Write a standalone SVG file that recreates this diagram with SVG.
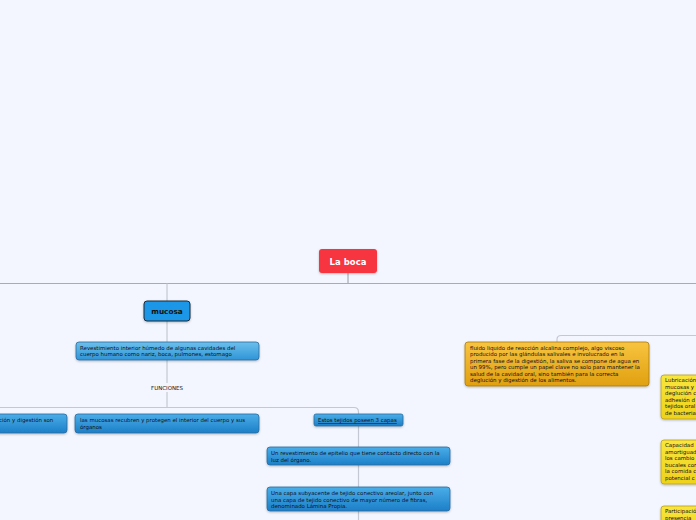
<svg xmlns="http://www.w3.org/2000/svg" width="696" height="520" viewBox="0 0 696 520">
<defs>
<linearGradient id="gBlue" x1="0" y1="0" x2="0" y2="1"><stop offset="0" stop-color="#6cc0ec"/><stop offset="1" stop-color="#2f94d6"/></linearGradient>
<linearGradient id="gBlue2" x1="0" y1="0" x2="0" y2="1"><stop offset="0" stop-color="#4aaee8"/><stop offset="1" stop-color="#1c7fc8"/></linearGradient>
<linearGradient id="gOrange" x1="0" y1="0" x2="0" y2="1"><stop offset="0" stop-color="#f8c440"/><stop offset="1" stop-color="#e0a010"/></linearGradient>
<linearGradient id="gYellow" x1="0" y1="0" x2="0" y2="1"><stop offset="0" stop-color="#f9e63c"/><stop offset="1" stop-color="#eed21c"/></linearGradient>
<filter id="sh" x="-10%" y="-20%" width="120%" height="150%"><feDropShadow dx="0" dy="1" stdDeviation="0.8" flood-color="#000" flood-opacity="0.25"/></filter>
</defs>
<style>
.t{font-family:"DejaVu Sans","Liberation Sans",sans-serif;font-size:5.45px;fill:#101020}
.b{stroke:#2a6aa0;stroke-width:0.8}
.c{fill:none;stroke:#c4c8d2;stroke-width:1.2}
.top{fill:none;stroke:#a9abb3;stroke-width:1.2}
</style>
<rect width="696" height="520" fill="#f3f6fe"/>
<g id="connectors">
<path class="top" d="M0 283.5H696M348 273V283.5"/>
<path class="c" d="M167 283.5V301M167 321V342M167 360V383M167 392V407.5"/>
<path class="c" d="M0 407.5H354q4.5 0 4.5 4.5V414"/>
<path class="c" d="M358.5 426V520"/>
<path class="c" d="M696 335.5H561q-4 0-4 4V342"/>
</g>
<g id="root"><rect x="319" y="249" width="58" height="24" rx="3" fill="#f7343f" filter="url(#sh)"/><text x="348" y="264.5" text-anchor="middle" font-family="DejaVu Sans,Liberation Sans,sans-serif" font-weight="bold" font-size="8.5" fill="#fff">La boca</text></g>
<g id="mucosa"><rect x="144" y="301" width="46" height="20" rx="3" fill="#1b96e6" stroke="#1c2a3a" stroke-width="1" filter="url(#sh)"/><text x="167" y="313.8" text-anchor="middle" font-family="DejaVu Sans,Liberation Sans,sans-serif" font-weight="bold" font-size="7.3" fill="#111">mucosa</text></g>
<g id="revestimiento"><rect x="76" y="342" width="183" height="18" rx="3" fill="url(#gBlue)" class="b" filter="url(#sh)"/><text class="t" x="80" y="349.5">Revestimiento interior húmedo de algunas cavidades del</text><text class="t" x="80" y="356">cuerpo humano como nariz, boca, pulmones, estomago</text></g>
<g id="funciones"><text class="t" x="167" y="389.5" text-anchor="middle">FUNCIONES</text></g>
<g id="digestion"><rect x="-10" y="414" width="77" height="19" rx="3" fill="url(#gBlue2)" class="b" filter="url(#sh)"/><text class="t" x="-1" y="422">ción y digestión son</text></g>
<g id="recubren"><rect x="75" y="414" width="184" height="19" rx="3" fill="url(#gBlue2)" class="b" filter="url(#sh)"/><text class="t" x="80" y="422">las mucosas recubren y protegen el interior del cuerpo y sus</text><text class="t" x="80" y="428.5">órganos</text></g>
<g id="capas"><rect x="314" y="414" width="89" height="12" rx="2" fill="url(#gBlue2)" class="b" filter="url(#sh)"/><text class="t" x="318" y="422" text-decoration="underline">Estos tejidos poseen 3 capas</text></g>
<g id="epitelio"><rect x="267" y="447" width="183" height="18" rx="3" fill="url(#gBlue2)" class="b" filter="url(#sh)"/><text class="t" x="271" y="455">Un revestimiento de epitelio que tiene contacto directo con la</text><text class="t" x="271" y="461.5">luz del órgano.</text></g>
<g id="lamina"><rect x="267" y="487" width="183" height="24" rx="3" fill="url(#gBlue2)" class="b" filter="url(#sh)"/><text class="t" x="271" y="495">Una capa subyacente de tejido conectivo areolar, junto con</text><text class="t" x="271" y="501.5">una capa de tejido conectivo de mayor número de fibras,</text><text class="t" x="271" y="508">denominado Lámina Propia.</text></g>
<g id="saliva"><rect x="465" y="342" width="184" height="44" rx="3" fill="url(#gOrange)" stroke="#a87a10" stroke-width="0.8" filter="url(#sh)"/><text class="t" x="470" y="349.5">fluido liquido de reacción alcalina complejo, algo viscoso</text><text class="t" x="470" y="356">producido por las glándulas salivales e involucrado en la</text><text class="t" x="470" y="362.5">primera fase de la digestión, la saliva se compone de agua en</text><text class="t" x="470" y="369">un 99%, pero cumple un papel clave no solo para mantener la</text><text class="t" x="470" y="375.5">salud de la cavidad oral, sino también para la correcta</text><text class="t" x="470" y="382">deglución y digestión de los alimentos.</text></g>
<g id="lubricacion"><rect x="661" y="375" width="60" height="44" rx="3" fill="url(#gYellow)" stroke="#b8a020" stroke-width="0.8" filter="url(#sh)"/><text class="t" x="665" y="382">Lubricación</text><text class="t" x="665" y="388.5">mucosas y</text><text class="t" x="665" y="395">deglución c</text><text class="t" x="665" y="401.5">adhesión d</text><text class="t" x="665" y="408">tejidos oral</text><text class="t" x="665" y="414.5">de bacteria</text></g>
<g id="capacidad"><rect x="661" y="440" width="60" height="44" rx="3" fill="url(#gYellow)" stroke="#b8a020" stroke-width="0.8" filter="url(#sh)"/><text class="t" x="665" y="447">Capacidad</text><text class="t" x="665" y="453.5">amortiguad</text><text class="t" x="665" y="460">los cambio</text><text class="t" x="665" y="466.5">bucales con</text><text class="t" x="665" y="473">la comida c</text><text class="t" x="665" y="479.5">potencial c</text></g>
<g id="participacion"><rect x="661" y="506" width="60" height="30" rx="3" fill="url(#gYellow)" stroke="#b8a020" stroke-width="0.8" filter="url(#sh)"/><text class="t" x="665" y="513">Participació</text><text class="t" x="665" y="519.5">presencia</text></g>
</svg>
